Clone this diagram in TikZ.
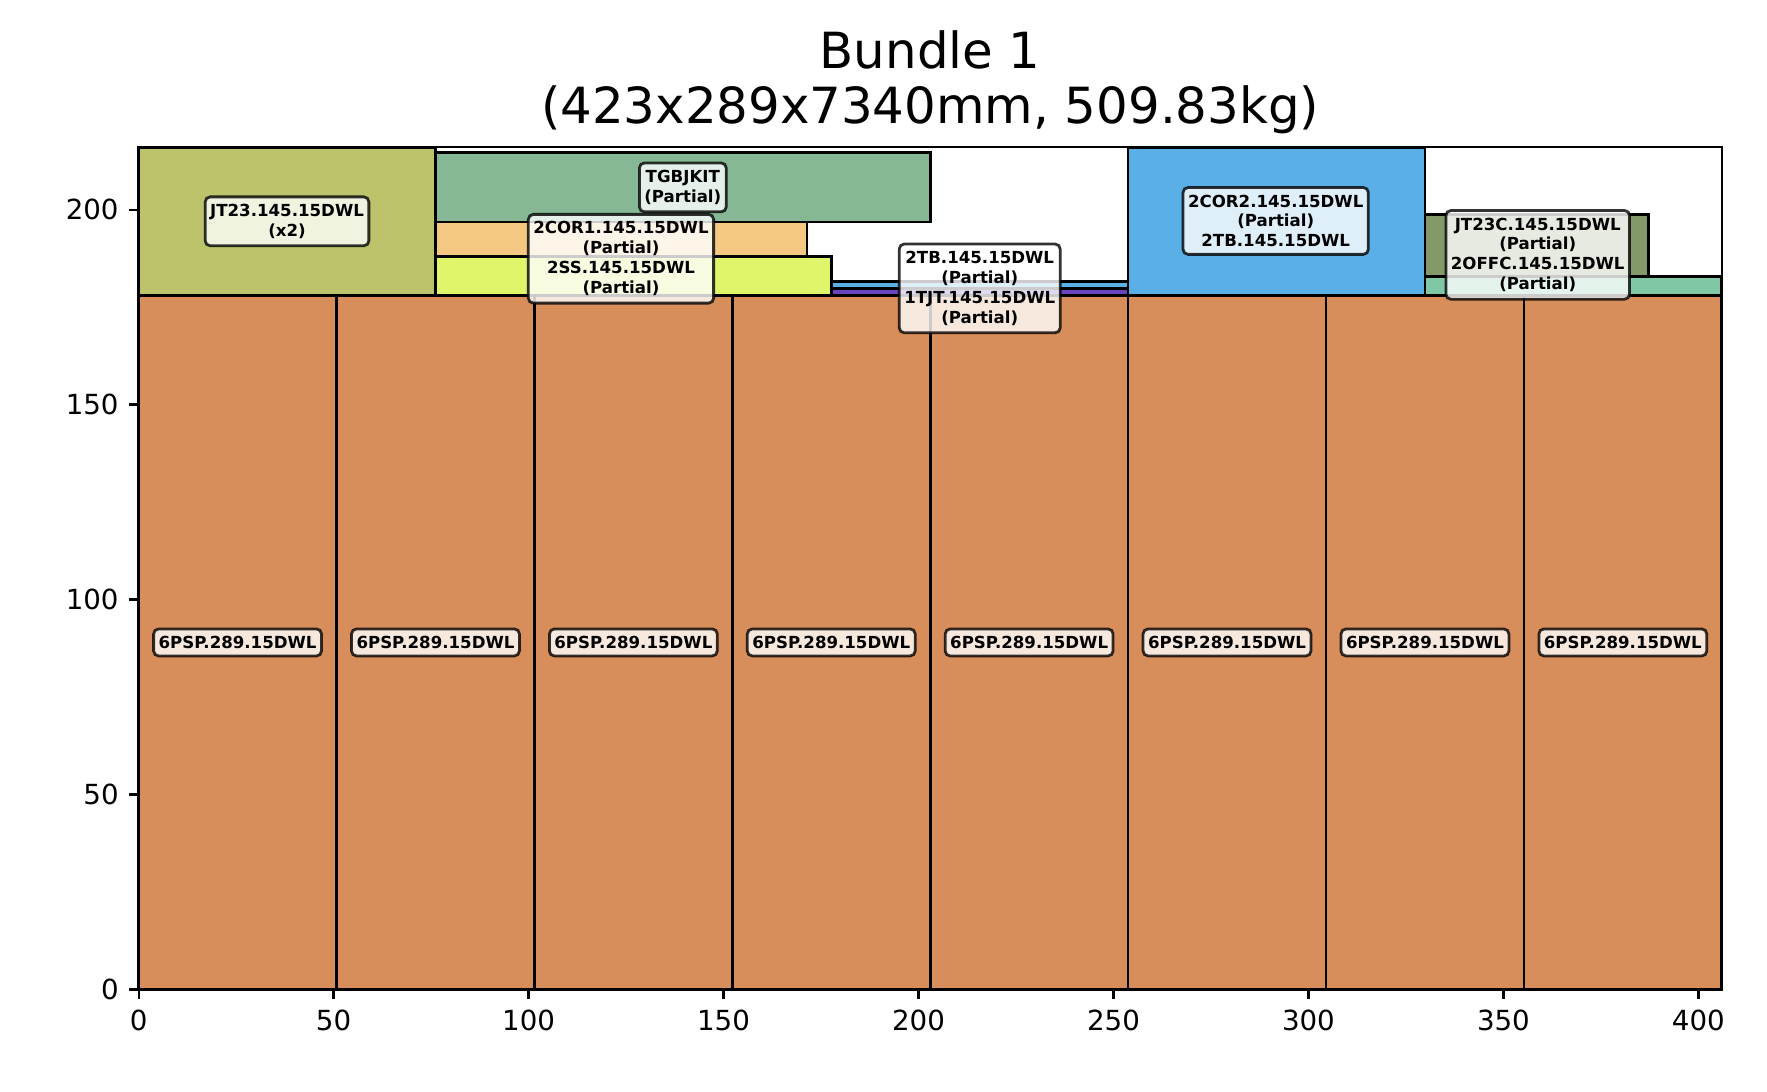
\documentclass[tikz,border=0pt]{standalone}
\usepackage{fontspec}
\setmainfont{DejaVu Sans}
\definecolor{cOrange}{RGB}{216,142,91}
\definecolor{cOlive}{RGB}{189,195,107}
\definecolor{cSage}{RGB}{134,184,150}
\definecolor{cPeach}{RGB}{244,200,131}
\definecolor{cLime}{RGB}{224,245,106}
\definecolor{cSky}{RGB}{90,175,230}
\definecolor{cViolet}{RGB}{106,67,191}
\definecolor{cMoss}{RGB}{132,153,106}
\definecolor{cMint}{RGB}{128,199,165}
\begin{document}
\begin{tikzpicture}[x=1.4036bp,y=1.4036bp,
  item/.style={draw=black,line width=1bp},
  tag/.style={draw=black,draw opacity=0.8,fill=white,fill opacity=0.8,text opacity=1,
    line width=1bp,rounded corners=1.8bp,inner xsep=1.8bp,inner ysep=2.6bp,
    align=center,font=\bfseries\fontsize{6}{7.2}\selectfont},
  ticklab/.style={inner sep=0pt,font=\fontsize{10}{12}\selectfont},
  titlelab/.style={inner sep=0pt,anchor=base,font=\fontsize{18}{21.6}\selectfont},
  spine/.style={line width=0.8bp,line cap=rect}]
\useasboundingbox (-35.55,-26.06) rectangle (417.6,253.76);

% bottom layer: eight packs side by side
\foreach \i in {0,...,7}{
  \draw[item,fill=cOrange] ({\i*50.75},0) rectangle ({(\i+1)*50.75},178);
}

% top layer
\draw[item,fill=cOlive]  (0,178) rectangle (76.125,216);
\draw[item,fill=cSage]   (76.125,196.8) rectangle (203,214.6);
\draw[item,fill=cPeach]  (76.125,187.9) rectangle (171.4,196.8);
\draw[item,fill=cLime]   (76.125,178) rectangle (177.7,187.9);
\draw[item,fill=cViolet] (177.7,178) rectangle (253.75,179.8);
\draw[item,fill=cSky]    (177.7,179.8) rectangle (253.75,181.5);
\draw[item,fill=cSky]    (253.75,178) rectangle (329.875,216);
\draw[item,fill=cMoss]   (329.875,182.9) rectangle (387.3,198.8);
\draw[item,fill=cMint]   (329.875,178) rectangle (406,182.9);

% axes frame and ticks
\draw[spine] (0,0) rectangle (406,216);
\foreach \v in {0,50,...,400}{
  \draw[line width=0.8bp] (\v,0) -- ++(0,-3.5bp);
  \node[ticklab,anchor=north] (xt\v) at (\v,0) [yshift=-7bp] {\v};
}
\foreach \v in {0,50,...,200}{
  \draw[line width=0.8bp] (0,\v) -- ++(-3.5bp,0);
  \node[ticklab,anchor=east] (yt\v) at (0,\v) [xshift=-7bp] {\v};
}

% title
\node[titlelab] (title1) at (203,236.2) {Bundle 1};
\node[titlelab] (title2) at (203,222.0) {(423x289x7340mm, 509.83kg)};

% labels
\foreach \i in {0,...,7}{
  \node[tag] (p\i) at ({(\i+0.5)*50.75},89) {6PSP.289.15DWL};
}
\node[tag] (jt23) at (38.06,197) {JT23.145.15DWL\\(x2)};
\node[tag] (kit) at (139.56,205.7) {TGBJKIT\\(Partial)};
\node[tag] (cor1) at (123.7,187.4) {2COR1.145.15DWL\\(Partial)\\2SS.145.15DWL\\(Partial)};
\node[tag] (tb) at (215.7,179.8) {2TB.145.15DWL\\(Partial)\\1TJT.145.15DWL\\(Partial)};
\node[tag] (cor2) at (291.6,197.1) {2COR2.145.15DWL\\(Partial)\\2TB.145.15DWL};
\node[tag] (jt23c) at (358.8,188.4) {JT23C.145.15DWL\\(Partial)\\2OFFC.145.15DWL\\(Partial)};
\end{tikzpicture}
\end{document}
